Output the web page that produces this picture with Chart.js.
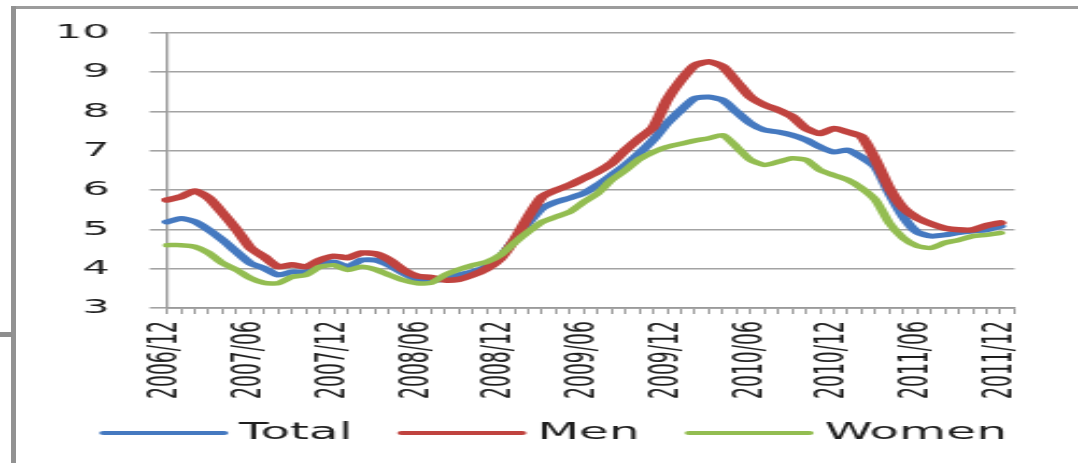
<!DOCTYPE html>
<html>
<head>
<meta charset="utf-8">
<script src="https://cdn.jsdelivr.net/npm/chart.js@4"></script>
<style>
  html, body { margin: 0; padding: 0; background: #fff; overflow: hidden; width: 1078px; height: 463px; }
  #frameTop { position: absolute; left: 12px; top: 6px; width: 1066px; height: 3px; background: #9c9c9c; }
  #frameLeft { position: absolute; left: 11px; top: 6px; width: 5px; height: 457px; background: #929292; }
  #stub { position: absolute; left: 0; top: 332px; width: 12px; height: 5px; background: #8e8e8e; }
  #wrap { position: absolute; left: 0; top: 0; width: 501px; height: 463px;
          transform: scaleX(2.1517); transform-origin: 0 0; }
</style>
</head>
<body>
<div id="frameTop"></div>
<div id="frameLeft"></div>
<div id="stub"></div>
<div id="wrap"><canvas id="chart"></canvas></div>
<script>
// Monthly categories, Dec 2006 through Jan 2012 (last slot left empty)
const months = [
  '2006/12','2007/01','2007/02','2007/03','2007/04','2007/05','2007/06','2007/07','2007/08','2007/09','2007/10','2007/11',
  '2007/12','2008/01','2008/02','2008/03','2008/04','2008/05','2008/06','2008/07','2008/08','2008/09','2008/10','2008/11',
  '2008/12','2009/01','2009/02','2009/03','2009/04','2009/05','2009/06','2009/07','2009/08','2009/09','2009/10','2009/11',
  '2009/12','2010/01','2010/02','2010/03','2010/04','2010/05','2010/06','2010/07','2010/08','2010/09','2010/10','2010/11',
  '2010/12','2011/01','2011/02','2011/03','2011/04','2011/05','2011/06','2011/07','2011/08','2011/09','2011/10','2011/11',
  '2011/12','2012/01'
];

// Unemployment rate, %
const total = [
  5.19, 5.28, 5.20, 4.99, 4.73, 4.43, 4.14, 4.01, 3.84, 3.92, 3.92, 4.09,
  4.17, 4.05, 4.22, 4.22, 4.09, 3.89, 3.73, 3.70, 3.73, 3.84, 3.92, 4.05,
  4.30, 4.73, 5.16, 5.54, 5.70, 5.80, 5.92, 6.13, 6.38, 6.64, 6.94, 7.28,
  7.70, 8.04, 8.34, 8.37, 8.29, 7.99, 7.70, 7.53, 7.48, 7.40, 7.28, 7.10,
  6.97, 7.02, 6.84, 6.59, 5.92, 5.32, 4.93, 4.83, 4.86, 4.92, 4.96, 4.99,
  5.08
];
const men = [
  5.75, 5.83, 5.98, 5.80, 5.42, 5.00, 4.53, 4.30, 4.05, 4.10, 4.05, 4.22,
  4.32, 4.28, 4.40, 4.38, 4.22, 3.97, 3.81, 3.78, 3.71, 3.73, 3.84, 4.00,
  4.26, 4.73, 5.32, 5.83, 6.00, 6.13, 6.30, 6.47, 6.68, 7.02, 7.32, 7.60,
  8.30, 8.80, 9.18, 9.27, 9.15, 8.76, 8.37, 8.17, 8.04, 7.87, 7.57, 7.44,
  7.57, 7.48, 7.36, 6.77, 6.05, 5.54, 5.29, 5.14, 5.03, 4.99, 4.99, 5.10,
  5.17
];
const women = [
  4.60, 4.60, 4.56, 4.40, 4.14, 3.97, 3.76, 3.64, 3.63, 3.79, 3.84, 4.05,
  4.09, 3.97, 4.05, 3.98, 3.84, 3.71, 3.63, 3.64, 3.84, 3.98, 4.09, 4.17,
  4.35, 4.66, 4.94, 5.19, 5.32, 5.45, 5.70, 5.92, 6.26, 6.51, 6.79, 6.97,
  7.10, 7.18, 7.26, 7.32, 7.40, 7.10, 6.77, 6.64, 6.72, 6.81, 6.77, 6.51,
  6.38, 6.26, 6.05, 5.75, 5.16, 4.78, 4.58, 4.53, 4.66, 4.73, 4.83, 4.86,
  4.91
];

const yMin = 3, yMax = 10, yStep = 1;
const labelEvery = 6;

const gridGray = '#a3a3a3';
const axisGray = '#9a9a9a';
const textColor = '#1e1e1e';
const fontFamily = '"DejaVu Sans", Verdana, sans-serif';

function series(label, data, color, width, order) {
  return {
    label, data, order,
    borderColor: color,
    backgroundColor: color,
    borderWidth: width,
    borderCapStyle: 'round',
    borderJoinStyle: 'round',
    pointRadius: 0,
    pointHoverRadius: 0,
    tension: 0.2,
    fill: false
  };
}

// Legend row under the axis: a short line sample followed by the series name
const lineLegend = {
  id: 'lineLegend',
  afterDraw(chart, args, opts) {
    const ctx = chart.ctx;
    const sets = chart.data.datasets;
    ctx.save();
    ctx.font = `${opts.fontSize}px ${fontFamily}`;
    ctx.textBaseline = 'middle';
    ctx.textAlign = 'left';
    const widths = sets.map(d => ctx.measureText(d.label).width);
    const full = widths.reduce((a, w) => a + opts.sample + opts.gap + w, 0) + opts.spacing * (sets.length - 1);
    let x = (chart.width - full) / 2 + opts.shift;
    sets.forEach((d, i) => {
      ctx.strokeStyle = d.borderColor;
      ctx.lineWidth = opts.lineWidth;
      ctx.lineCap = 'round';
      ctx.beginPath();
      ctx.moveTo(x + 1, opts.y);
      ctx.lineTo(x + opts.sample - 1, opts.y);
      ctx.stroke();
      x += opts.sample + opts.gap;
      ctx.fillStyle = textColor;
      ctx.fillText(d.label, x, opts.y);
      x += widths[i] + opts.spacing;
    });
    ctx.restore();
  }
};

new Chart(document.getElementById('chart'), {
  type: 'line',
  data: {
    labels: months,
    datasets: [
      series('Total', total, '#4579c0', 5, 3),
      series('Men', men, '#c0433f', 5.5, 2),
      series('Women', women, '#93bd51', 4.5, 1)
    ]
  },
  plugins: [lineLegend],
  options: {
    responsive: true,
    maintainAspectRatio: false,
    animation: false,
    layout: { padding: { top: 33, right: 27, bottom: 62.5, left: 0 } },
    plugins: {
      tooltip: { enabled: false },
      legend: { display: false },
      lineLegend: { y: 433, fontSize: 22.5, sample: 58, gap: 6, spacing: 22, lineWidth: 4, shift: 7 }
    },
    scales: {
      x: {
        type: 'category',
        offset: false,
        afterFit: (s) => { s.height = 92.5; },
        grid: {
          drawOnChartArea: false,
          drawTicks: true,
          tickLength: 6,
          color: axisGray,
          lineWidth: 1
        },
        border: { display: true, color: axisGray, width: 1.8 },
        ticks: {
          autoSkip: false,
          maxRotation: 90,
          minRotation: 90,
          padding: 7,
          color: textColor,
          font: { family: fontFamily, size: 18.8 },
          callback: function (value, index) {
            return index % labelEvery === 0 ? this.getLabelForValue(value) : '';
          }
        }
      },
      y: {
        min: yMin,
        max: yMax,
        afterFit: (s) => { s.width = 77.6; },
        grid: {
          color: gridGray,
          lineWidth: 1.6,
          drawTicks: true,
          tickLength: 8
        },
        border: { display: true, color: axisGray, width: 1.2 },
        ticks: {
          stepSize: yStep,
          padding: 18.6,
          color: textColor,
          font: { family: fontFamily, size: 20 }
        }
      }
    }
  }
});
</script>
</body>
</html>
